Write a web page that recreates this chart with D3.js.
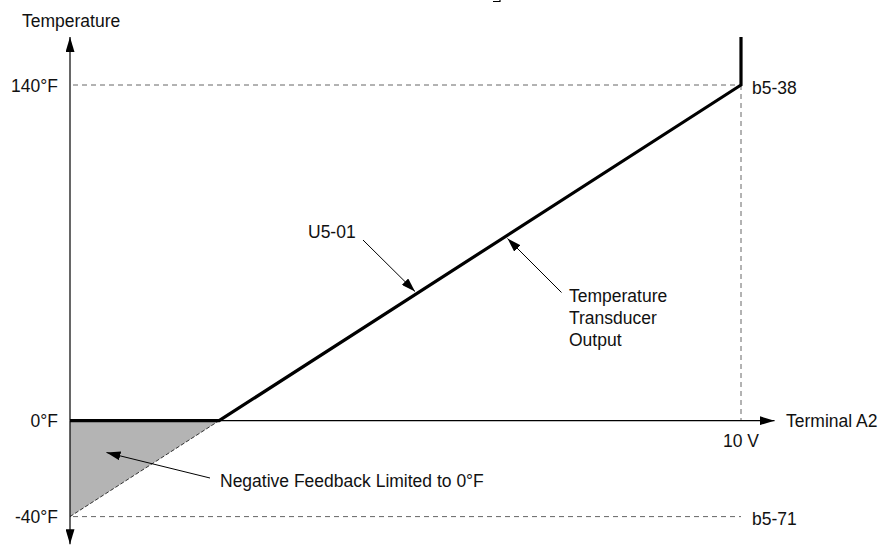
<!DOCTYPE html>
<html>
<head>
<meta charset="utf-8">
<script src="https://cdn.jsdelivr.net/npm/d3@7/dist/d3.min.js"></script>
<style>
  html, body { margin: 0; padding: 0; background: #fff; }
  text { font-family: "Liberation Sans", Arial, sans-serif; font-size: 17.5px; fill: #111; }
</style>
</head>
<body>
<svg id="chart" width="881" height="548"></svg>
<script>
// ---- data ----
const xDomain = [0, 10];              // Terminal A2 volts
const yDomain = [-40, 140];           // temperature °F
const yTicks = [
  { v: 140, label: "140°F" },
  { v: 0, label: "0°F" },
  { v: -40, label: "-40°F" }
];
const paramLabels = [
  { v: 140, label: "b5-38" },
  { v: -40, label: "b5-71" }
];
const xTickLabel = { v: 10, label: "10 V" };
// transducer output: linear -40°F at 0 V to 140°F at 10 V
const transducer = [ { x: 0, y: -40 }, { x: 10, y: 140 } ];
const zeroCross = 40 / 18;            // volts where transducer output = 0°F
// U5-01 (limited to 0°F)
const u501 = [ { x: 0, y: 0 }, { x: zeroCross, y: 0 }, { x: 10, y: 140 }, { x: 10, y: 160 } ];
const shaded = [ { x: 0, y: 0 }, { x: zeroCross, y: 0 }, { x: 0, y: -40 } ];
const axisExtent = { xMax: 10.5, yMax: 160, yMin: -51.5 };

// ---- scales ----
const x = d3.scaleLinear().domain(xDomain).range([70, 741]);
const y = d3.scaleLinear().domain(yDomain).range([516.6, 85]);

const svg = d3.select("#chart");
const line = d3.line().x(d => x(d.x)).y(d => y(d.y));

// arrow markers
const defs = svg.append("defs");
function marker(id, len, w) {
  defs.append("marker")
    .attr("id", id).attr("viewBox", `0 ${-w/2} ${len} ${w}`)
    .attr("refX", len).attr("refY", 0)
    .attr("markerWidth", len).attr("markerHeight", w)
    .attr("markerUnits", "userSpaceOnUse")
    .attr("orient", "auto")
    .append("path").attr("d", `M0,${-w/2}L${len},0L0,${w/2}Z`).attr("fill", "#000");
}
marker("axisArrow", 15, 9);
marker("noteArrow", 14, 9);

// shaded triangle
svg.append("path").datum(shaded)
  .attr("d", line.curve(d3.curveLinearClosed))
  .attr("fill", "#b4b4b4").attr("stroke", "none");
line.curve(d3.curveLinear);

// hypotenuse dashed
svg.append("path").datum([transducer[0], { x: zeroCross, y: 0 }])
  .attr("d", line).attr("fill", "none")
  .attr("stroke", "#333").attr("stroke-width", 1).attr("stroke-dasharray", "4,2");

// gray dashed reference lines
const dashStyle = sel => sel.attr("stroke", "#666").attr("stroke-width", 1).attr("stroke-dasharray", "5,4").attr("fill", "none");
svg.append("line").attr("x1", x(0) + 3).attr("x2", x(10)).attr("y1", y(140)).attr("y2", y(140)).call(dashStyle);
svg.append("line").attr("x1", x(0) + 3).attr("x2", x(10)).attr("y1", y(-40)).attr("y2", y(-40)).call(dashStyle);
svg.append("line").attr("x1", x(10)).attr("x2", x(10)).attr("y1", y(140)).attr("y2", y(0)).call(dashStyle);

// axes
svg.append("line").attr("x1", x(0)).attr("x2", x(0))
  .attr("y1", y(0)).attr("y2", y(axisExtent.yMax))
  .attr("stroke", "#000").attr("stroke-width", 1.2).attr("marker-end", "url(#axisArrow)");
svg.append("line").attr("x1", x(0)).attr("x2", x(0))
  .attr("y1", y(0)).attr("y2", y(axisExtent.yMin))
  .attr("stroke", "#000").attr("stroke-width", 1.2).attr("marker-end", "url(#axisArrow)");
svg.append("line").attr("x1", x(0)).attr("x2", x(axisExtent.xMax))
  .attr("y1", y(0)).attr("y2", y(0))
  .attr("stroke", "#000").attr("stroke-width", 1.2).attr("marker-end", "url(#axisArrow)");

// U5-01 thick line
svg.append("path").datum(u501)
  .attr("d", line).attr("fill", "none")
  .attr("stroke", "#000").attr("stroke-width", 3.2).attr("stroke-linejoin", "miter");

// y labels
svg.selectAll(".ylab").data(yTicks).enter().append("text")
  .attr("x", 58).attr("y", d => y(d.v) + 6.5).attr("text-anchor", "end").text(d => d.label);
svg.selectAll(".plab").data(paramLabels).enter().append("text")
  .attr("x", 752).attr("y", d => y(d.v) + 8.5).text(d => d.label);
svg.append("text").attr("x", 22).attr("y", 27).text("Temperature");
svg.append("text").attr("x", 786).attr("y", y(0) + 6.5).text("Terminal A2");
svg.append("text").attr("x", x(xTickLabel.v)).attr("y", 447).attr("text-anchor", "middle").text(xTickLabel.label);

// annotations
function note(x1, y1, x2, y2) {
  svg.append("line").attr("x1", x1).attr("y1", y1).attr("x2", x2).attr("y2", y2)
    .attr("stroke", "#000").attr("stroke-width", 1).attr("marker-end", "url(#noteArrow)");
}
note(363, 240, 415, 291.5);
svg.append("text").attr("x", 308).attr("y", 238).text("U5-01");

note(561.5, 292.5, 507.5, 238.5);
const tt = svg.append("text").attr("x", 569).attr("y", 302);
["Temperature", "Transducer", "Output"].forEach((s, i) =>
  tt.append("tspan").attr("x", 569).attr("dy", i === 0 ? 0 : 22).text(s));

note(210, 478, 106.5, 452.5);
svg.append("text").attr("x", 220).attr("y", 486.5).text("Negative Feedback Limited to 0°F");

// small fragment at the top edge
svg.append("path").attr("d", "M493,1.5H500V0").attr("stroke", "#000").attr("stroke-width", 1.2).attr("fill", "none");
</script>
</body>
</html>
